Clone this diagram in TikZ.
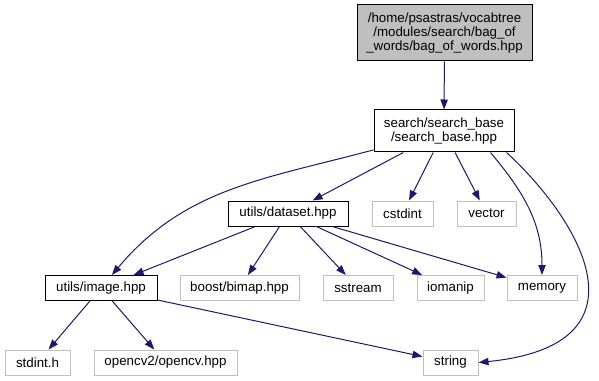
\documentclass[tikz,border=0pt]{standalone}
\usepackage{fontspec}
\setmainfont{Liberation Sans}
\usetikzlibrary{arrows.meta}
\definecolor{edgeblue}{HTML}{191970}
\definecolor{boxgray}{HTML}{BFBFBF}

\begin{document}
\begin{tikzpicture}[x=0.75pt, y=0.75pt]
	\tikzstyle{every node} = [rectangle, draw=black, line width=0.75pt, inner sep=0pt, minimum height=18.75pt, align=center, font=\fontsize{10}{10.5}\selectfont]
	\tikzstyle{sys} = [draw=boxgray]
	\tikzstyle{dep} = [draw=edgeblue, line width=0.75pt, -{Triangle[length=7.5pt, width=5.5pt, fill=edgeblue]}]
	\useasboundingbox (0,0) rectangle (599,-381);
	% documented headers
	\node[fill=boxgray, minimum width=131.25pt, minimum height=42pt] (bow) at (444.5, -33) {/home/psastras/vocabtree\\/modules/search/bag\_of\\\_words/bag\_of\_words.hpp};
	\node[minimum width=105pt, minimum height=31.5pt] (base) at (444, -131) {search/search\_base\\/search\_base.hpp};
	\node[minimum width=90pt] (dataset) at (288, -213.5) {utils/dataset.hpp};
	\node[minimum width=84pt] (image) at (101, -288) {utils/image.hpp};
	% system headers
	\node[sys, minimum width=45.75pt] (cstdint) at (402.5, -213.5) {cstdint};
	\node[sys, minimum width=44.25pt] (vector) at (486.5, -213.5) {vector};
	\node[sys, minimum width=89.25pt] (bimap) at (239.5, -288) {boost/bimap.hpp};
	\node[sys, minimum width=52.5pt] (sstream) at (358, -288) {sstream};
	\node[sys, minimum width=50.25pt] (iomanip) at (450.5, -288) {iomanip};
	\node[sys, minimum width=52.5pt] (memory) at (542, -288) {memory};
	\node[sys, minimum width=48.75pt] (stdint) at (37.5, -362.5) {stdint.h};
	\node[sys, minimum width=107.25pt] (opencv) at (165.5, -362.5) {opencv2/opencv.hpp};
	\node[sys, minimum width=41.25pt] (string) at (450.5, -362.5) {string};
	% include edges
	\draw [dep] (bow)--(base);
	\draw [dep] (base) to[out=195, in=50] (image);
	\draw [dep] (base)--(dataset);
	\draw [dep] (base)--(cstdint);
	\draw [dep] (base)--(vector);
	\draw [dep] ([xshift=-18pt]base.south east) to[out=-50, in=90] (memory.north);
	\draw [dep] ([xshift=-6pt]base.south east) .. controls (580,-220) and (655,-345) .. (string.east);
	\draw [dep] (dataset)--(image);
	\draw [dep] (dataset)--(bimap);
	\draw [dep] (dataset)--(sstream);
	\draw [dep] (dataset)--(iomanip);
	\draw [dep] (dataset)--(memory);
	\draw [dep] (image)--(stdint);
	\draw [dep] (image)--(opencv);
	\draw [dep] (image)--(string);
\end{tikzpicture}
\end{document}
